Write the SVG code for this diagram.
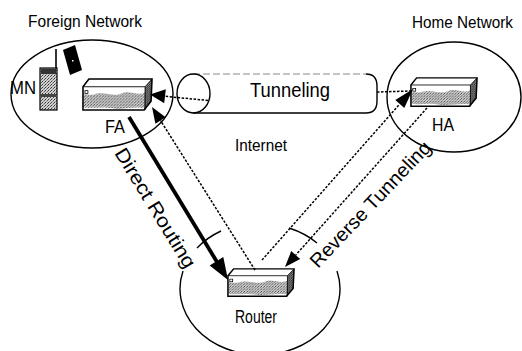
<svg xmlns="http://www.w3.org/2000/svg" width="522" height="351" viewBox="0 0 522 351">
<style>
  .ln{fill:none;stroke:#000;stroke-width:1.4}
  .dot{fill:none;stroke:#000;stroke-width:1.5;stroke-dasharray:2.5 1.5}
  .thick{fill:none;stroke:#000;stroke-width:3.8}
  .ah{fill:#000;stroke:none}
  .t{font-family:"Liberation Sans",Arial,sans-serif;fill:#000}
</style>
<defs>
  <pattern id="stip" width="3" height="3" patternUnits="userSpaceOnUse">
    <rect width="3" height="3" fill="#d0d0d0"/>
    <rect x="0" y="0" width="1" height="1" fill="#333"/>
    <rect x="2" y="1" width="1" height="1" fill="#555"/>
    <rect x="1" y="2" width="1" height="1" fill="#888"/>
  </pattern>
  <pattern id="stipd" width="2" height="2" patternUnits="userSpaceOnUse">
    <rect width="2" height="2" fill="#999"/>
    <rect x="0" y="0" width="1" height="1" fill="#111"/>
    <rect x="1" y="1" width="1" height="1" fill="#333"/>
  </pattern>
  <symbol id="dev" viewBox="0 0 72 35" preserveAspectRatio="none">
    <path d="M1,9 H64 V33 H1 Z" fill="url(#stip)"/>
    <path d="M1,9 H64 V15 C56,19 48,12 40,16 C32,20 22,13 12,17 C7,18 3,16 1,17 Z" fill="#fff"/>
    <path d="M1,33 V30 C10,32 20,29 30,31 C40,33 52,29 64,31 V33 Z" fill="#fff"/>
    <path d="M64,9 L71,1 L70,24 L63,33 Z" fill="url(#stipd)"/>
    <path d="M1,9 L7,1 L71,1 L64,9 Z" fill="#fff"/>
    <path d="M1,9 L7,1 L71,1 L70,24 L63,33 L1,33 Z" fill="none" stroke="#000" stroke-width="1.6"/>
    <path d="M1,9 H64 L71,1 M64,9 V33" fill="none" stroke="#000" stroke-width="0.9"/>
    <rect x="3" y="13" width="3" height="3" fill="#fff" stroke="#000" stroke-width="0.8"/>
  </symbol>
</defs>
<rect width="522" height="351" fill="#fff"/>

<g id="foreign-network">
  <ellipse class="ln" cx="92" cy="94" rx="81" ry="54"/>
  <text class="t" x="28" y="27" font-size="17" textLength="114" lengthAdjust="spacingAndGlyphs">Foreign Network</text>
</g>

<g id="home-network">
  <ellipse class="ln" cx="454" cy="97" rx="67" ry="55"/>
  <text class="t" x="412" y="28" font-size="16" textLength="101" lengthAdjust="spacingAndGlyphs">Home Network</text>
</g>

<g id="router-network">
  <path class="ln" d="M183,271 A80,66 0 1 0 337,271"/>
  <path class="ln" d="M197,248 A80,66 0 0 1 221,231"/>
  <path class="ln" d="M289,228 A80,66 0 0 1 317,243"/>
</g>

<g id="mn">
  <line x1="56" y1="49" x2="56" y2="68" stroke="#000" stroke-width="1.6"/>
  <rect x="40" y="68" width="17" height="42" fill="url(#stip)" stroke="#000" stroke-width="1.2"/>
  <rect x="41" y="69" width="15" height="5" fill="#333"/>
  <rect x="41" y="94" width="15" height="3" fill="#444"/>
  <polygon points="63,50 75,45 82,70 70,75" fill="#000"/>
  <rect x="72" y="60" width="1.5" height="1.5" fill="#fff"/>
  <text class="t" x="10" y="94" font-size="19" textLength="26" lengthAdjust="spacingAndGlyphs">MN</text>
</g>

<g id="fa">
  <use href="#dev" x="82" y="78" width="71" height="34"/>
  <text class="t" x="105" y="133" font-size="19" textLength="20" lengthAdjust="spacingAndGlyphs">FA</text>
</g>

<g id="ha">
  <use href="#dev" x="410" y="77" width="68" height="31"/>
  <text class="t" x="432" y="131" font-size="19" textLength="22" lengthAdjust="spacingAndGlyphs">HA</text>
</g>

<g id="router">
  <use href="#dev" x="227" y="268" width="68" height="30"/>
  <text class="t" x="235" y="323" font-size="18" textLength="42" lengthAdjust="spacingAndGlyphs">Router</text>
</g>

<g id="tunnel">
  <path d="M193,74 H366" fill="none" stroke="#888" stroke-width="1" stroke-dasharray="7 3"/>
  <path class="ln" d="M366,74 Q377,74 377,86 V101 Q377,113 366,113 H193"/>
  <ellipse class="ln" cx="193.5" cy="93.5" rx="16.5" ry="19.5"/>
  <text class="t" x="250" y="97" font-size="20" textLength="80" lengthAdjust="spacingAndGlyphs">Tunneling</text>
</g>

<text class="t" x="235" y="151" font-size="17" textLength="52" lengthAdjust="spacingAndGlyphs">Internet</text>

<g id="connectors">
  <line class="dot" x1="208" y1="100.5" x2="165" y2="96.3"/>
  <polygon class="ah" points="150,94.5 165.8,89.3 164.2,103.3"/>
  <line class="dot" x1="377" y1="92" x2="411" y2="91"/>
  <line class="thick" x1="129" y1="117" x2="217" y2="262"/>
  <polygon class="ah" points="228,280 223.3,257.1 209.7,265.5"/>
  <line class="dot" x1="255" y1="270" x2="160.5" y2="120.5"/>
  <polygon class="ah" points="152,107 165.6,117.3 155.4,123.7"/>
  <line class="dot" x1="262" y1="260" x2="399.8" y2="104"/>
  <polygon class="ah" points="413,89 404.3,108 395.3,100"/>
  <line class="dot" x1="427" y1="108" x2="295.7" y2="255.1"/>
  <polygon class="ah" points="285,267 300.2,259.1 291.2,251.1"/>
</g>

<text class="t" font-size="19.5" transform="translate(114,153) rotate(58.5)" textLength="137" lengthAdjust="spacingAndGlyphs">Direct Routing</text>
<text class="t" font-size="19.5" transform="translate(318,269) rotate(-46.5)" textLength="166" lengthAdjust="spacingAndGlyphs">Reverse Tunneling</text>
</svg>
